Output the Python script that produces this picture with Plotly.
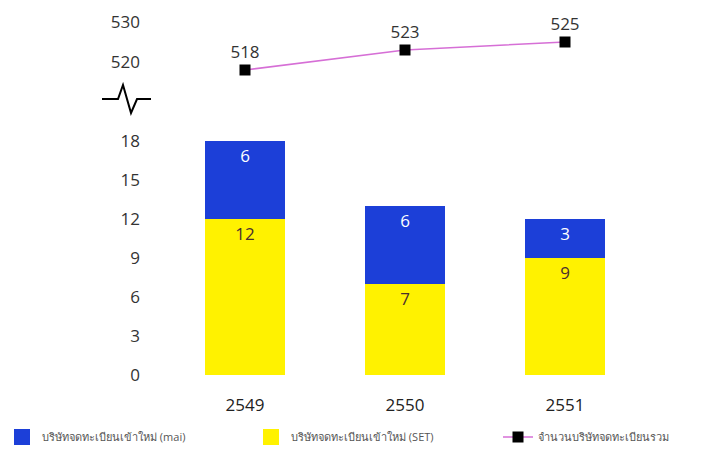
import plotly.graph_objects as go

years = ["2549", "2550", "2551"]
set_new = [12, 7, 9]
mai_new = [6, 6, 3]
total_listed = [518, 523, 525]
bar_ticks = [0, 3, 6, 9, 12, 15, 18]
top_ticks = [520, 530]

name_mai = "บริษัทจดทะเบียนเข้าใหม่ (mai)"
name_set = "บริษัทจดทะเบียนเข้าใหม่ (SET)"
name_total = "จำนวนบริษัทจดทะเบียนรวม"

FONT = "Open Sans, Noto Sans, DejaVu Sans, sans-serif"
BLUE = "#1c3fd8"
YELLOW = "#fff200"

fig = go.Figure()
fig.add_trace(go.Bar(
    x=years, y=set_new, name=name_set, marker=dict(color=YELLOW, line=dict(width=0)),
    text=[str(v) for v in set_new], textposition="inside", insidetextanchor="end",
    textfont=dict(color="#4a2f2f", size=17, family=FONT), showlegend=False,
))
fig.add_trace(go.Bar(
    x=years, y=mai_new, name=name_mai, marker=dict(color=BLUE, line=dict(width=0)),
    text=[str(v) for v in mai_new], textposition="inside", insidetextanchor="end",
    textfont=dict(color="white", size=17, family=FONT), showlegend=False,
))
fig.add_trace(go.Scatter(
    x=years, y=total_listed, name=name_total, yaxis="y2",
    mode="lines+markers+text", line=dict(color="#d66fd6", width=1.5),
    marker=dict(symbol="square", size=11, color="black"),
    text=[str(v) for v in total_listed], textposition="top center",
    textfont=dict(color="#333333", size=17, family=FONT),
    cliponaxis=False, legend="legend3",
))
# legend-only entries with larger square swatches
fig.add_trace(go.Scatter(x=[None], y=[None], mode="markers", name=name_mai,
                         marker=dict(symbol="square", size=18, color=BLUE),
                         legend="legend"))
fig.add_trace(go.Scatter(x=[None], y=[None], mode="markers", name=name_set,
                         marker=dict(symbol="square", size=18, color=YELLOW),
                         legend="legend2"))

# target plot area in screenshot pixels (page body adds an 8px offset)
OFF = 8
L, R, T, B = 165, 645, 14, 375
W, H = R - L, B - T
def px(xp, yp):
    return (xp - L) / W, (B - yp) / H
pts = [(102, 99), (118, 99), (123, 85), (131, 113), (137, 99), (151, 99)]
path = "M " + " L ".join("%.4f,%.4f" % px(a, b) for a, b in pts)
fig.add_shape(type="path", path=path, xref="paper", yref="paper",
              line=dict(color="black", width=2))

leg_font = dict(size=11, color="#555555", family=FONT)
def leg(xpix):
    return dict(x=(xpix - L) / W, xanchor="left", y=(B - 437) / H, yanchor="middle",
                font=leg_font, itemsizing="trace", bgcolor="rgba(0,0,0,0)")

fig.update_layout(
    width=719, height=454,
    margin=dict(l=L - OFF, r=719 - R + OFF, t=T - OFF, b=454 - B + OFF,
                autoexpand=False),
    paper_bgcolor="white", plot_bgcolor="white",
    barmode="stack", bargap=0.5,
    font=dict(family=FONT, color="#333333"),
    xaxis=dict(type="category", showgrid=False, showline=False, zeroline=False,
               ticks="", tickfont=dict(size=17, color="#222222"),
               ticklabelstandoff=18),
    yaxis=dict(domain=[0, 247 / H], range=[0, 19], tickvals=bar_ticks,
               showgrid=False, zeroline=False, showline=False, ticks="",
               tickfont=dict(size=17, color="#333333"), ticklabelstandoff=24),
    yaxis2=dict(domain=[(B - 82) / H, 1], range=[515, 532], tickvals=top_ticks,
                anchor="x", showgrid=False, zeroline=False, showline=False, ticks="",
                tickfont=dict(size=17, color="#333333"), ticklabelstandoff=24),
    legend=leg(2),
    legend2=leg(251),
    legend3=leg(498),
    showlegend=True,
)

fig.write_html("out.html")
